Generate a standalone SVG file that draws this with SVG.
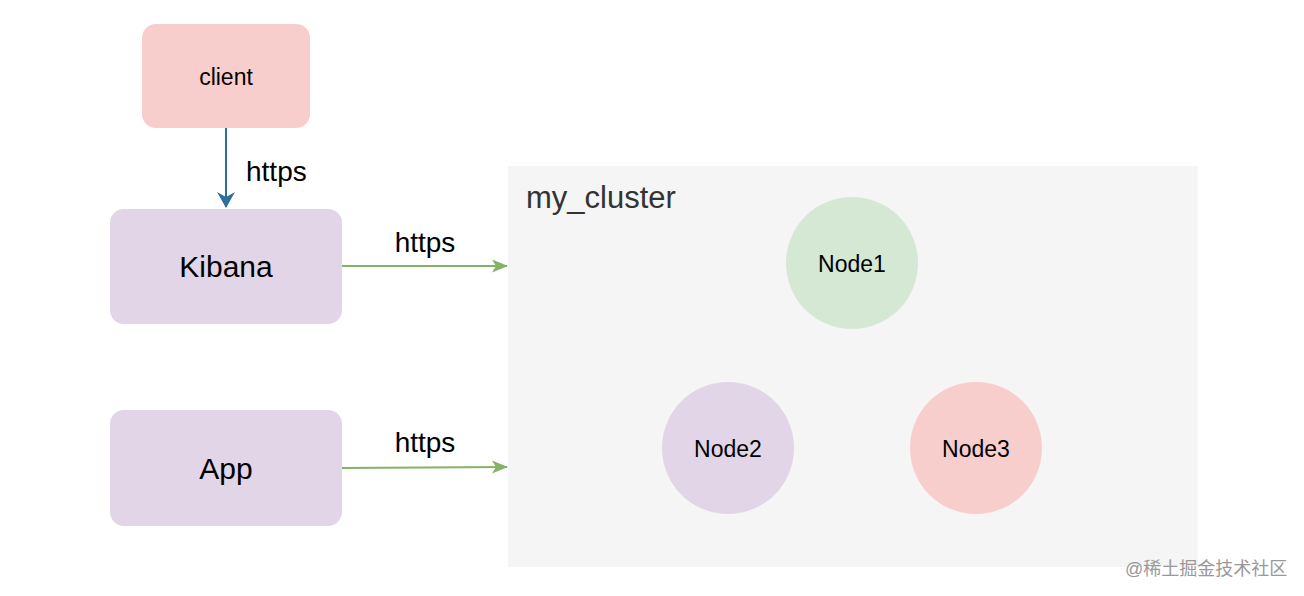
<svg xmlns="http://www.w3.org/2000/svg" width="1304" height="596" viewBox="0 0 1304 596">
<style>
text{font-family:"Liberation Sans",Arial,sans-serif;fill:#000}
.lbl{font-size:28px}
.big{font-size:30px}
.nd{font-size:23px}
.c{text-anchor:middle;dominant-baseline:central}
</style>
<defs>
<marker id="ab" markerWidth="16" markerHeight="18" refX="15" refY="9" orient="auto" markerUnits="userSpaceOnUse"><path d="M0,0 L16,9 L0,18 L5,9 Z" fill="#2e6f9e"/></marker>
<marker id="ag" markerWidth="16" markerHeight="14" refX="15" refY="6.5" orient="auto" markerUnits="userSpaceOnUse"><path d="M0,0 L16,6.5 L0,13 L4,6.5 Z" fill="#82b366"/></marker>
</defs>
<rect width="1304" height="596" fill="#fff"/>
<g id="cluster">
<rect x="508" y="166" width="690" height="401" fill="#f5f5f5"/>
<text x="526" y="208" font-size="31" style="fill:#333">my_cluster</text>
</g>
<g id="client">
<rect x="142" y="24" width="168" height="104" rx="14" fill="#f8cecc"/>
<text class="c" x="226" y="77" font-size="23">client</text>
</g>
<g id="kibana">
<rect x="110" y="209" width="232" height="115" rx="14" fill="#e1d5e7"/>
<text class="c big" x="226" y="266">Kibana</text>
</g>
<g id="app">
<rect x="110" y="410" width="232" height="116" rx="14" fill="#e1d5e7"/>
<text class="c big" x="226" y="468">App</text>
</g>
<g id="node1">
<circle cx="852" cy="263" r="66" fill="#d5e8d4"/>
<text class="c nd" x="852" y="264">Node1</text>
</g>
<g id="node2">
<circle cx="728" cy="448" r="66" fill="#e1d5e7"/>
<text class="c nd" x="728" y="449">Node2</text>
</g>
<g id="node3">
<circle cx="976" cy="448" r="66" fill="#f8cecc"/>
<text class="c nd" x="976" y="449">Node3</text>
</g>
<g id="connectors">
<line x1="226" y1="128" x2="226" y2="207" stroke="#2e6f9e" stroke-width="2" marker-end="url(#ab)"/>
<text class="lbl" x="246" y="181">https</text>
<line x1="342" y1="266" x2="507" y2="266" stroke="#82b366" stroke-width="2" marker-end="url(#ag)"/>
<text class="lbl" x="425" y="252" text-anchor="middle">https</text>
<line x1="342" y1="468" x2="507" y2="467" stroke="#82b366" stroke-width="2" marker-end="url(#ag)"/>
<text class="lbl" x="425" y="452" text-anchor="middle">https</text>
</g>
<text x="1125" y="575" font-size="18" style="fill:#999;font-family:'Liberation Sans','Noto Sans CJK SC',sans-serif">@稀土掘金技术社区</text>
</svg>
